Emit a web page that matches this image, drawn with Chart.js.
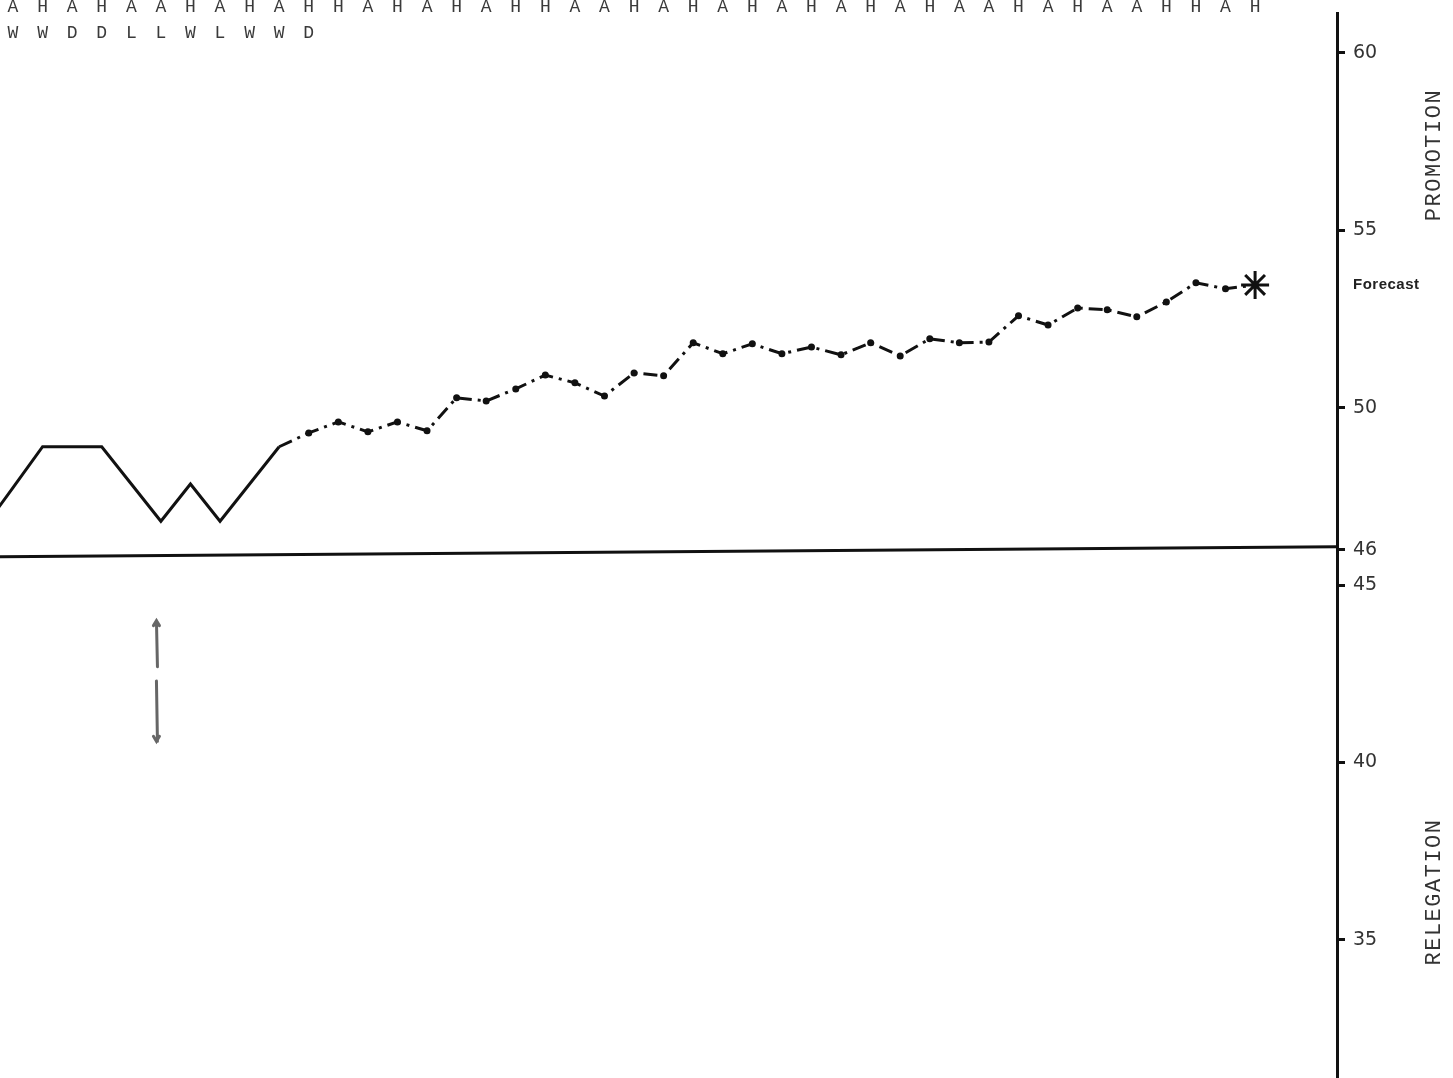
<!DOCTYPE html>
<html>
<head>
<meta charset="utf-8">
<title>Points forecast</title>
<script src="https://cdn.jsdelivr.net/npm/chart.js@4.4.1/dist/chart.umd.min.js"></script>
<style>
    html, body { margin: 0; padding: 0; background: #fff; }
    #wrap { position: relative; width: 1453px; height: 1078px; }
</style>
</head>
<body>
<div id="wrap"><canvas id="pointsChart"></canvas></div>
<script>
// fixture list and results so far
const venues = ["A","H","A","H","A","A","H","A","H","A","H","H","A","H","A","H","A","H","H","A",
    "A","H","A","H","A","H","A","H","A","H","A","H","A","A","H","A","H","A","A","H","H","A","H"];
const results = ["W","W","D","D","L","L","W","L","W","W","D"];

// forecast final points after each match (match 0 = start of season)
const playedPoints = [46.6, 47.75, 48.9, 48.9, 48.9, 47.85, 46.8, 47.85, 46.8, 47.85, 48.9];
const forecastPoints = [48.9, 49.29, 49.6, 49.32, 49.6, 49.35, 50.28, 50.19, 50.53, 50.92, 50.7,
    50.33, 50.98, 50.9, 51.83, 51.52, 51.8, 51.52, 51.71, 51.49, 51.83, 51.46, 51.94, 51.83,
    51.85, 52.59, 52.33, 52.81, 52.76, 52.56, 52.98, 53.52, 53.35, 53.46];
const forecastStart = 10;

// dividing line between promotion and relegation zones
const dividerPoints = [45.8, 46.08];
const yTicks = [35, 40, 45, 46, 50, 55, 60];

const xMin = 0.56, xMax = 45.77;

const ink = "#111";

const labelsPlugin = {
    id: "labels",
    afterDraw(chart) {
        const ctx = chart.ctx;
        const x = chart.scales.x;
        const y = chart.scales.y;
        ctx.save();

        // axis line starts a little below the top edge
        ctx.fillStyle = "#fff";
        ctx.fillRect(chart.chartArea.right - 4, 0, 8, 12);

        ctx.fillStyle = "#3a3a3a";
        ctx.font = "18px 'Liberation Mono'";
        ctx.textAlign = "center";
        ctx.textBaseline = "middle";
        venues.forEach(function (v, i) {
            ctx.fillText(v, x.getPixelForValue(i + 1), 7);
        });
        results.forEach(function (r, i) {
            ctx.fillText(r, x.getPixelForValue(i + 1), 33);
        });

        // right hand annotations
        ctx.fillStyle = "#222";
        ctx.font = "bold 15px 'Liberation Sans'";
        ctx.textAlign = "left";
        if ("letterSpacing" in ctx) ctx.letterSpacing = "0.5px";
        ctx.fillText("Forecast", 1353, 285);
        if ("letterSpacing" in ctx) ctx.letterSpacing = "0px";

        ctx.font = "22px 'Liberation Mono'";
        ctx.textAlign = "center";
        ctx.fillStyle = "#333";
        [["PROMOTION", 155], ["RELEGATION", 892]].forEach(function (t) {
            ctx.save();
            ctx.translate(1434, t[1]);
            ctx.rotate(-Math.PI / 2);
            if ("letterSpacing" in ctx) ctx.letterSpacing = "1.5px";
            ctx.fillText(t[0], 0, 0);
            ctx.restore();
        });

        // pencilled arrows under the early results
        const ax = x.getPixelForValue(5.85);
        ctx.strokeStyle = "#666";
        ctx.lineWidth = 3;
        ctx.lineCap = "round";
        const arrows = [[44.0, 42.7, -1], [42.3, 40.6, 1]];
        arrows.forEach(function (a) {
            const y1 = y.getPixelForValue(a[0]);
            const y2 = y.getPixelForValue(a[1]);
            ctx.beginPath();
            ctx.moveTo(ax, y1);
            ctx.lineTo(ax + 1, y2);
            const tip = a[2] < 0 ? y1 : y2;
            ctx.moveTo(ax - 3, tip - 5 * a[2]);
            ctx.lineTo(ax, tip);
            ctx.lineTo(ax + 3, tip - 5 * a[2]);
            ctx.stroke();
        });
        ctx.restore();
    },
};

const forecastStyles = forecastPoints.map(function (v, i) {
    return i === forecastPoints.length - 1 ? "star" : "circle";
});
const forecastRadius = forecastPoints.map(function (v, i) {
    if (i === 0) return 0;
    return i === forecastPoints.length - 1 ? 14 : 2;
});

const chart = new Chart(document.getElementById("pointsChart"), {
    type: "line",
    plugins: [labelsPlugin],
    data: {
        datasets: [
            {
                label: "Divider",
                data: [{ x: xMin, y: dividerPoints[0] }, { x: xMax, y: dividerPoints[1] }],
                borderColor: ink,
                borderWidth: 3,
                pointRadius: 0,
            },
            {
                label: "Played",
                data: playedPoints.map((v, i) => ({ x: i, y: v })),
                borderColor: ink,
                borderWidth: 3,
                pointRadius: 0,
                tension: 0,
            },
            {
                label: "Forecast",
                data: forecastPoints.map((v, i) => ({ x: forecastStart + i, y: v })),
                borderColor: ink,
                borderWidth: 3,
                borderDash: [14, 6, 3, 6],
                pointStyle: forecastStyles,
                pointRadius: forecastRadius,
                pointBackgroundColor: ink,
                pointBorderColor: ink,
                pointBorderWidth: 3,
                tension: 0,
            },
        ],
    },
    options: {
        responsive: true,
        maintainAspectRatio: false,
        animation: false,
        layout: { padding: 0, autoPadding: false },
        plugins: {
            legend: { display: false },
            tooltip: { enabled: false },
        },
        scales: {
            x: {
                type: "linear",
                min: xMin,
                max: xMax,
                display: false,
            },
            y: {
                position: "right",
                min: 31.11,
                max: 61.49,
                afterBuildTicks: function (scale) {
                    scale.ticks = yTicks.map((v) => ({ value: v }));
                },
                afterFit: function (scale) {
                    scale.width = 116;
                    scale.paddingTop = 0;
                    scale.paddingBottom = 0;
                },
                border: { display: true, color: ink, width: 3 },
                grid: {
                    drawOnChartArea: false,
                    drawTicks: true,
                    tickLength: 8,
                    tickWidth: 3,
                    color: ink,
                },
                ticks: {
                    color: "#333",
                    padding: 8,
                    font: { family: "'DejaVu Sans'", size: 19 },
                },
            },
        },
    },
});
</script>
</body>
</html>
